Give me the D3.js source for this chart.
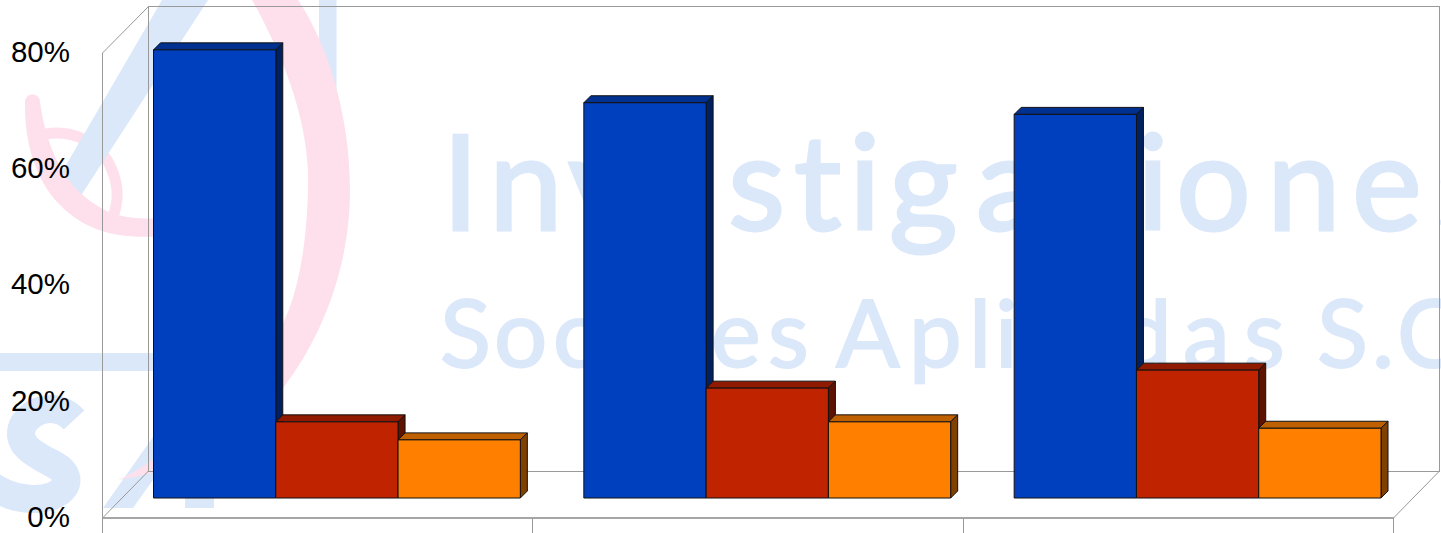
<!DOCTYPE html>
<html>
<head>
<meta charset="utf-8">
<script src="https://cdn.jsdelivr.net/npm/d3@7"></script>
<style>
  html, body { margin: 0; padding: 0; background: #fff; overflow: hidden; }
  svg { display: block; }
</style>
</head>
<body>
<script>
var width = 1441,
    height = 533;

// Chart values (the category names are cut off in the reference)
var categories = ["Grupo 1", "Grupo 2", "Grupo 3"];
var seriesNames = ["Serie 1", "Serie 2", "Serie 3"];
var serie1 = [77.1, 68, 66];
var serie2 = [13.1, 18.9, 22];
var serie3 = [10, 13.1, 12];
var yTicks = [0, 20, 40, 60, 80];

var seriesValues = [serie1, serie2, serie3];
var frontColor = ["#0040bf", "#bf2300", "#ff8000"];
var topColor = ["#003090", "#8f1a00", "#bf6000"];
var sideColor = ["#002060", "#601200", "#804000"];

var gridColor = "#999999",
    markBlue = "#dbe8fa",
    markPink = "#fde0ec";

// 3D box settings
var wallDepth = 47,
    barShift = 20,
    barDepth = 7;

var svg = d3.select("body").append("svg")
            .attr("width", width)
            .attr("height", height);

var x0 = d3.scaleBand().domain(categories).range([102, 1393]);
var x1 = d3.scaleBand().domain(seriesNames).range([31.5, x0.bandwidth() - 32]);
var y = d3.scaleLinear().domain([0, 80]).range([518, 53]);

// Watermark behind the chart
var mark = svg.append("g");

// the small loop sits under the blue band, the big pink strokes over it
mark.append("path").attr("fill", "none").attr("stroke", markPink).attr("stroke-width", 11)
    .attr("d", "M40,135C70,128 100,140 112,170C120,190 118,205 111,222");

mark.append("path").attr("fill", markBlue)
    .attr("d", "M162,0L208,0L80,197L66,186L62,172Z");
mark.append("rect").attr("fill", markBlue)
    .attr("x", 319).attr("y", 0).attr("width", 17.5).attr("height", 110);
mark.append("rect").attr("fill", markBlue)
    .attr("x", 0).attr("y", 353).attr("width", 200).attr("height", 18);
mark.append("path").attr("fill", "none").attr("stroke", markBlue).attr("stroke-width", 28)
    .attr("d", "M74,420C60,405 38,405 24,423C12,445 38,456 55,465C78,478 64,500 32,499C15,498 5,494 -8,486");
mark.append("path").attr("fill", markBlue)
    .attr("d", "M103,508L165,420L214,420L214,508L185,508L185,470L160,470L133,508Z");

mark.append("path").attr("fill", markPink)
    .attr("d", "M252,0L298,0C325,40 350,110 350,190C350,270 320,340 283,388C240,440 185,470 118,480C150,468 235,400 283,323C300,290 309,230 308,170C305,110 280,50 252,0Z");
mark.append("path").attr("fill", markPink)
    .attr("d", "M25,102C24,140 35,180 60,205C85,230 115,240 165,236L165,218C130,220 110,217 85,197C60,177 45,140 40,102C40,92 25,92 25,102Z");

// Watermark words, placed letter by letter
var word1 = "Investigaciones",
    word2 = "Sociales Aplicadas S.C";
var word1X = [442, 489, 568, 640, 728, 794, 849, 889, 976, 1065, 1137, 1176, 1267, 1352, 1436];
var word2X = [440, 494, 553, 607, 628, 687, 711, 768, 830, 836, 909, 969, 995, 1022, 1068, 1119, 1183, 1244, 1300, 1317, 1372, 1397];

mark.append("text").text(word1)
    .attr("x", word1X.join(" ")).attr("y", 230)
    .attr("font-family", "Lato").attr("font-size", 132)
    .attr("fill", markBlue).attr("stroke", markBlue).attr("stroke-width", 3);
mark.append("text").text(word2)
    .attr("x", word2X.join(" ")).attr("y", 367)
    .attr("font-family", "Lato").attr("font-size", 94)
    .attr("fill", markBlue).attr("stroke", markBlue).attr("stroke-width", 2);

// Walls and floor
var left = x0.range()[0],
    right = x0.range()[1],
    base = y(0),
    top80 = y(80);

var frame = svg.append("g").attr("fill", "none").attr("stroke", gridColor).attr("stroke-width", 1);

frame.append("rect")
     .attr("x", left + wallDepth - 0.5).attr("y", top80 - wallDepth + 0.5)
     .attr("width", right - left).attr("height", base - top80);
frame.append("path")
     .attr("d", d3.line()([[left + 0.5, height], [left + 0.5, top80], [left + wallDepth - 0.5, top80 - wallDepth + 0.5]]));
frame.append("path")
     .attr("d", d3.line()([[left + 0.5, base], [left + wallDepth - 0.5, base - wallDepth]]));
frame.append("path")
     .attr("d", d3.line()([[right + 0.5, base], [right + wallDepth - 0.5, base - wallDepth]]));

// x axis: ticks sit between the categories
var xEdges = categories.map(function(d) { return x0(d); }).concat(right);

svg.append("line")
   .attr("x1", left).attr("x2", right + 1)
   .attr("y1", base).attr("y2", base)
   .attr("stroke", "#a6a6a6").attr("stroke-width", 2);

svg.append("g").selectAll("line")
   .data(xEdges)
   .enter()
   .append("line")
   .attr("x1", function(d) { return Math.round(d) + 0.5; })
   .attr("x2", function(d) { return Math.round(d) + 0.5; })
   .attr("y1", base)
   .attr("y2", height)
   .attr("stroke", gridColor);

// y axis labels
var yAxis = svg.append("g")
   .attr("transform", "translate(" + left + ",-1)")
   .call(d3.axisLeft(y).tickValues(yTicks).tickSize(0).tickPadding(32)
           .tickFormat(function(d) { return d + "%"; }));

yAxis.select(".domain").remove();
yAxis.selectAll("text")
     .attr("font-family", "Liberation Sans")
     .attr("font-size", 29.5)
     .attr("fill", "#000");

// Bars
var points = function(p) { return p.map(function(c) { return c.join(","); }).join(" "); };

categories.forEach(function(cat, c) {
  seriesNames.forEach(function(name, s) {
    var xa = x0(cat) + x1(name) + barShift,
        xb = xa + x1.bandwidth(),
        ya = y(seriesValues[s][c]) - barShift,
        yb = base - barShift,
        d = barDepth;

    var bar = svg.append("g").attr("stroke", "#111").attr("stroke-width", 1).attr("stroke-linejoin", "round");

    bar.append("polygon").attr("fill", topColor[s])
       .attr("points", points([[xa, ya], [xa + d, ya - d], [xb + d, ya - d], [xb, ya]]));
    bar.append("polygon").attr("fill", sideColor[s])
       .attr("points", points([[xb, ya], [xb + d, ya - d], [xb + d, yb - d], [xb, yb]]));
    bar.append("rect").attr("fill", frontColor[s])
       .attr("x", xa).attr("y", ya)
       .attr("width", xb - xa).attr("height", yb - ya);
  });
});
</script>
</body>
</html>
